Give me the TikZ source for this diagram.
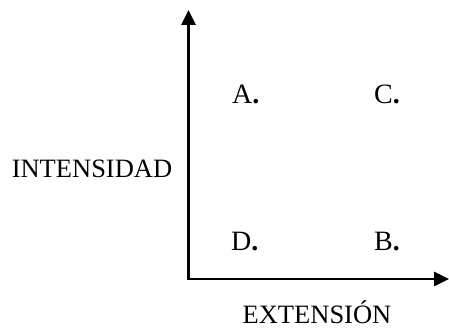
\documentclass[tikz,border=0pt]{standalone}
\usepackage{fontspec}
\setmainfont{Liberation Serif}
\usetikzlibrary{arrows.meta}
\begin{document}
\begin{tikzpicture}[x=1pt,y=-1pt,
  axis/.style={line width=2.6pt,line join=miter,{Triangle[length=15pt,width=14pt]}-{Triangle[length=15pt,width=14pt]}},
  lbl/.style={inner sep=0pt,font=\fontsize{26.5}{30}\selectfont},
  pt/.style={inner sep=0pt,anchor=base west,font=\fontsize{28}{30}\selectfont}]
\useasboundingbox (0,0) rectangle (449,328);
\coordinate (top) at (188.5,10);
\coordinate (right) at (449,279);
\draw[axis] (top) |- (right);
\node[pt] (A) at (232,104) {A{\bfseries .}};
\node[pt] (C) at (374,104) {C{\bfseries .}};
\node[pt] (D) at (231,251) {D{\bfseries .}};
\node[pt] (B) at (374,251) {B{\bfseries .}};
\node[lbl,anchor=base] (int) at (92,178) {INTENSIDAD};
\node[lbl,anchor=base] (ext) at (317,323) {EXTENSIÓN};
\end{tikzpicture}
\end{document}
